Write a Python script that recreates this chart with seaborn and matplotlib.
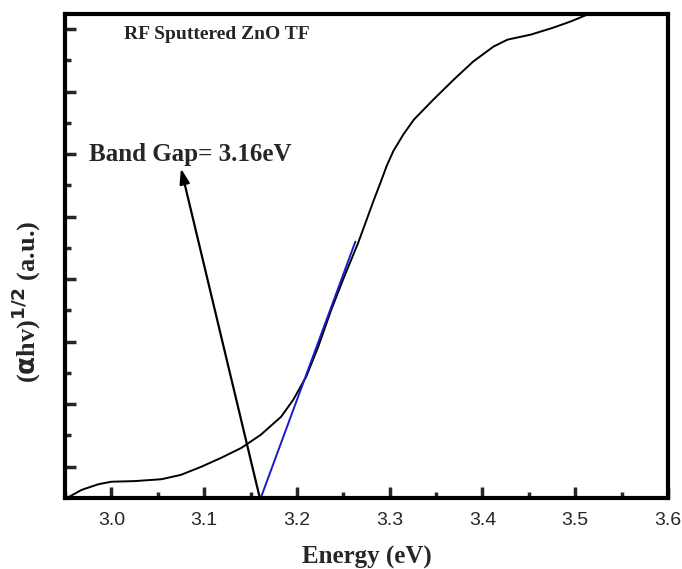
import matplotlib
matplotlib.use("Agg")
import matplotlib.pyplot as plt
from matplotlib.ticker import MultipleLocator, NullFormatter
import pandas as pd
import seaborn as sns

# Tauc plot data (y in arbitrary units)
energy = [2.952, 2.968, 2.986, 3.000, 3.025, 3.054, 3.075, 3.097, 3.118, 3.140,
          3.161, 3.183, 3.196, 3.210, 3.223, 3.237, 3.251, 3.266, 3.283, 3.290,
          3.297, 3.304, 3.315, 3.326, 3.347, 3.369, 3.390, 3.412, 3.427, 3.452,
          3.476, 3.495, 3.513, 3.530]
tauc = [0.00, 0.13, 0.22, 0.26, 0.27, 0.30, 0.37, 0.50, 0.64, 0.80,
        1.01, 1.30, 1.57, 1.94, 2.42, 3.01, 3.54, 4.08, 4.77, 5.04,
        5.32, 5.55, 5.82, 6.05, 6.37, 6.69, 6.98, 7.22, 7.33, 7.41,
        7.52, 7.62, 7.73, 7.95]

# linear fit extrapolated to the energy axis
fit_energy = [3.161, 3.263]
fit_tauc = [0.0, 4.10]

band_gap = 3.16
arrow_tip = (3.075, 5.27)

df = pd.DataFrame({"energy": energy, "tauc": tauc})
fit = pd.DataFrame({"energy": fit_energy, "tauc": fit_tauc})

sns.set_style("ticks")
serif = ["Liberation Serif", "DejaVu Serif"]

fig = plt.figure(figsize=(6.82, 5.69), dpi=100)
ax = fig.add_axes([0.0953, 0.1248, 0.8842, 0.8506])

sns.lineplot(data=df, x="energy", y="tauc", color="black", linewidth=1.4, ax=ax)
sns.lineplot(data=fit, x="energy", y="tauc", color="#1a1acc", linewidth=1.4, ax=ax)

ax.annotate("", xy=arrow_tip, xytext=(band_gap, 0.0),
            arrowprops=dict(arrowstyle="-|>,head_length=0.9,head_width=0.3",
                            color="black", lw=1.6, shrinkA=0, shrinkB=0))
ax.text(2.976, 5.49, "Band Gap= 3.16eV", fontsize=18, fontweight="bold",
        family=serif, va="center", ha="left")
ax.text(3.014, 7.42, "RF Sputtered ZnO TF", fontsize=14, fontweight="bold",
        family=serif, va="center", ha="left")

ax.set_xlim(2.95, 3.6)
ax.set_ylim(0, 7.74)
ax.xaxis.set_major_locator(MultipleLocator(0.1))
ax.xaxis.set_minor_locator(MultipleLocator(0.05))
ax.set_yticks([0.5 + k for k in range(8)])
ax.set_yticks([float(k) for k in range(1, 8)], minor=True)
ax.yaxis.set_major_formatter(NullFormatter())

ax.tick_params(which="major", direction="in", length=8, width=2.5,
               labelsize=14, pad=10)
ax.tick_params(which="minor", direction="in", length=4, width=2.5)
for lab in ax.get_xticklabels():
    lab.set_family(["Liberation Sans", "DejaVu Sans"])

for side in ["left", "right", "top", "bottom"]:
    ax.spines[side].set_linewidth(3)
    ax.spines[side].set_color("black")

ax.set_xlabel("Energy (eV)", fontsize=18, fontweight="bold", family=serif,
              labelpad=12)
ax.set_ylabel(r"($\mathbf{\alpha}$hv)$^{\mathbf{1/2}}$ (a.u.)", fontsize=19,
              fontweight="bold", family=serif)
ax.yaxis.set_label_coords(-0.037, 0.405)

fig.savefig("out.png", dpi=100)
